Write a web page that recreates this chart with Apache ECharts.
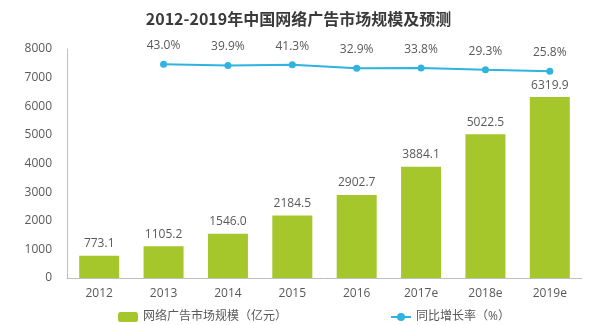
<!DOCTYPE html>
<html>
<head>
<meta charset="utf-8">
<script src="https://cdn.jsdelivr.net/npm/echarts@6/dist/echarts.min.js"></script>
<style>
  html, body { margin: 0; padding: 0; background: #fff; }
  #chart { width: 597px; height: 325px; }
</style>
</head>
<body>
<div id="chart"></div>
<script>
// Market size (100M CNY) and year-on-year growth rate (%)
const years = ['2012', '2013', '2014', '2015', '2016', '2017e', '2018e', '2019e'];
const marketSize = [773.1, 1105.2, 1546.0, 2184.5, 2902.7, 3884.1, 5022.5, 6319.9];
const growthRate = [null, 43.0, 39.9, 41.3, 32.9, 33.8, 29.3, 25.8];
const sizeTicks = [0, 1000, 2000, 3000, 4000, 5000, 6000, 7000, 8000];

const barName = '网络广告市场规模（亿元）';
const lineName = '同比增长率（%）';
const textColor = '#595959';
const font = 'Open Sans, Noto Sans CJK SC, sans-serif';

const chart = echarts.init(document.getElementById('chart'));
chart.setOption({
  animation: false,
  backgroundColor: '#ffffff',
  textStyle: { fontFamily: font },
  title: {
    text: '2012-2019年中国网络广告市场规模及预测',
    left: 'center',
    top: 6,
    textStyle: { fontSize: 16, fontWeight: 'bold', color: '#3a3a3a', fontFamily: 'Noto Sans CJK SC, sans-serif' }
  },
  legend: [
    {
      data: [barName],
      left: 113,
      top: 306,
      itemWidth: 20,
      itemHeight: 10,
      itemGap: 4,
      textStyle: { color: textColor, fontSize: 12, fontFamily: font }
    },
    {
      data: [lineName],
      left: 385,
      top: 306,
      itemWidth: 20,
      itemHeight: 10,
      textStyle: { color: textColor, fontSize: 12, fontFamily: font }
    }
  ],
  grid: { left: 67, right: 15, top: 49, bottom: 47 },
  xAxis: {
    type: 'category',
    data: years,
    axisLine: { lineStyle: { color: '#bfbfbf' } },
    axisTick: { show: false },
    axisLabel: { color: textColor, fontSize: 12, margin: 10 }
  },
  yAxis: [
    {
      type: 'value',
      min: sizeTicks[0],
      max: sizeTicks[sizeTicks.length - 1],
      interval: 1000,
      axisLine: { show: true, lineStyle: { color: '#bfbfbf' } },
      axisTick: { show: false },
      splitLine: { show: false },
      axisLabel: { color: textColor, fontSize: 12, margin: 15, formatter: v => String(v) }
    },
    {
      type: 'value',
      min: -480,
      max: 80,
      show: false,
      splitLine: { show: false }
    }
  ],
  series: [
    {
      name: barName,
      type: 'bar',
      data: marketSize,
      barWidth: 40,
      itemStyle: { color: '#a6c72c' },
      label: {
        show: true,
        position: 'top',
        distance: 6,
        color: textColor,
        fontSize: 12,
        formatter: p => p.value.toFixed(1)
      }
    },
    {
      name: lineName,
      type: 'line',
      yAxisIndex: 1,
      data: growthRate,
      symbol: 'circle',
      symbolSize: 7,
      lineStyle: { color: '#2fb3e0', width: 2 },
      itemStyle: { color: '#2fb3e0' },
      label: {
        show: true,
        position: 'top',
        distance: 9,
        color: textColor,
        fontSize: 12,
        formatter: p => p.value.toFixed(1) + '%'
      }
    }
  ]
});
</script>
</body>
</html>
